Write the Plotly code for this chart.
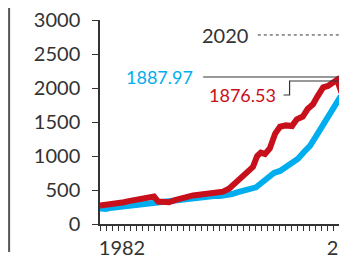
import plotly.graph_objects as go

red_x = [1982, 1983, 1984, 1985, 1986, 1987, 1988, 1989, 1990, 1991, 1991.7, 1992.5, 1993.5,
         1994.5, 1995.5, 1996.5, 1997.5, 1998.5, 1999.5, 2000.5, 2001.5, 2002.5, 2003.5,
         2004.5, 2005.5, 2006.5, 2007.5, 2008.2, 2008.8, 2009.5, 2010.3, 2011.2, 2012, 2013,
         2014, 2014.8, 2015.8, 2016.6, 2017.5, 2018.2, 2019.2, 2020, 2020.8, 2021.5, 2022.3,
         2023.2, 2024]
red_y = [270, 280, 285, 300, 320, 340, 355, 365, 375, 405, 330, 335, 320,
         350, 380, 400, 420, 430, 445, 455, 465, 475, 520,
         600, 680, 760, 840, 1000, 1050, 1030, 1110, 1330, 1430, 1450,
         1440, 1540, 1580, 1690, 1760, 1870, 2010, 2030, 2070, 2120, 1920,
         2000, 1880]

blue_x = list(range(1982, 2025))
blue_y = [230, 220, 240, 250, 260, 275, 290, 300, 315, 330, 335, 340, 350, 360, 375,
          390, 400, 405, 410, 410, 410, 415, 440, 470, 490, 500, 540, 610, 680, 750,
          780, 840, 890, 960, 1060, 1150, 1290, 1430, 1600, 1750, 1860, 1890, 1888]

y_ticks = [0, 500, 1000, 1500, 2000, 2500, 3000]
x_label_years = {1982: "1982", 2020: "2020"}
blue_label = "1887.97"
red_label = "1876.53"
year_label = "2020"

RED = "#c8101c"
BLUE = "#00aeef"
DARK = "#333333"
FONT = "Lato"

fig = go.Figure()
fig.add_trace(go.Scatter(x=blue_x, y=blue_y, mode="lines",
                         line=dict(color=BLUE, width=6), showlegend=False))
fig.add_trace(go.Scatter(x=red_x, y=red_y, mode="lines",
                         line=dict(color=RED, width=6), showlegend=False))

tickvals = list(range(1982, 2025))
ticktext = [x_label_years.get(v, "") for v in tickvals]

fig.update_layout(
    width=339, height=261,
    margin=dict(l=92, r=0, t=12, b=45, autoexpand=False),
    paper_bgcolor="white", plot_bgcolor="white",
    font=dict(family=FONT, color=DARK, size=20),
    xaxis=dict(range=[1982, 2023.17], tickmode="array", tickvals=tickvals,
               ticktext=ticktext, ticks="outside", ticklen=5, tickwidth=1,
               tickcolor=DARK, showline=True, linecolor=DARK, linewidth=1.5,
               showgrid=False, zeroline=False, ticklabelshift=22,
               ticklabelstandoff=0, automargin=False,
               ticklabeloverflow="allow", tickfont=dict(size=20, color=DARK)),
    yaxis=dict(range=[0, 3000], tickvals=y_ticks, ticks="outside", ticklen=6,
               tickcolor=DARK, showline=True, linecolor=DARK, linewidth=1.5,
               showgrid=False, zeroline=False, ticklabelstandoff=8, automargin=False,
               ticklabeloverflow="allow", tickfont=dict(size=20, color=DARK)),
)

# left border line
fig.add_shape(type="line", xref="paper", yref="paper",
              x0=-0.368, x1=-0.368, y0=1.1, y1=-0.137,
              line=dict(color="#555555", width=2))

# 2020 dotted leader
fig.add_annotation(x=2007.0, y=2780, xref="x", yref="y", text=year_label,
                   showarrow=False, xanchor="right", yanchor="middle",
                   font=dict(size=20, color=DARK))
fig.add_shape(type="line", xref="x", yref="y", x0=2008.3, x1=2025, y0=2780, y1=2780,
              line=dict(color=DARK, width=1, dash="dot"))

# blue label and leader
fig.add_annotation(x=1997.9, y=2162, xref="x", yref="y", text=blue_label,
                   showarrow=False, xanchor="right", yanchor="middle",
                   font=dict(size=18, color=BLUE))
fig.add_shape(type="line", xref="x", yref="y", x0=1999.2, x1=2025, y0=2162, y1=2162,
              line=dict(color=DARK, width=1.2))

# red label and leader
fig.add_annotation(x=2011.75, y=1897, xref="x", yref="y", text=red_label,
                   showarrow=False, xanchor="right", yanchor="middle",
                   font=dict(size=18, color=RED))
fig.add_shape(type="path", xref="x", yref="y",
              path="M 2012.6,1897 L 2013.6,1897 L 2013.6,2103 L 2025,2103",
              line=dict(color=DARK, width=1.2))

fig.write_html("out.html")
